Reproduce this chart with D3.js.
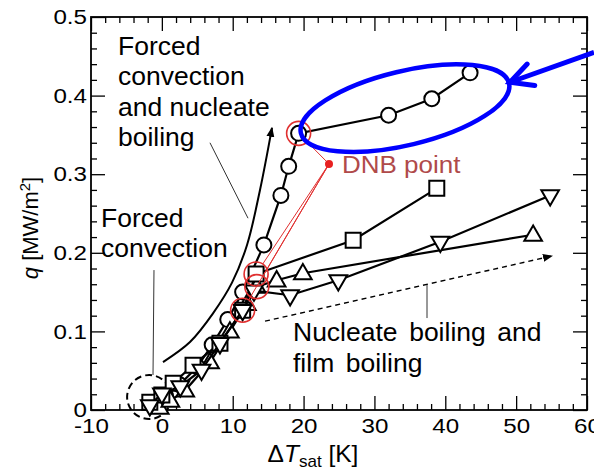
<!DOCTYPE html>
<html><head><meta charset="utf-8">
<script src="https://cdn.jsdelivr.net/npm/d3@7"></script>
<style>
body{margin:0;background:#fff}
text{font-family:"Liberation Sans",Arial,sans-serif}
</style>
</head><body><div id="chart"></div>
<script>
// set the dimensions and margins of the graph
const margin = {top: 17, right: 7, bottom: 64, left: 91},
    width = 594 - margin.left - margin.right,
    height = 474 - margin.top - margin.bottom;

// tick labels
const xTicks = [-10, 0, 10, 20, 30, 40, 50, 60];
const yTicks = [0, 0.1, 0.2, 0.3, 0.4, 0.5];

// series: dT_sat [K] and q [MW/m2]
const dT_circle = [-1.0, 0.5, 2.5, 5.0, 7.1, 9.3, 11.4, 14.4, 16.8, 17.9, 19.3, 32.0, 38.1, 43.5];
const q_circle  = [0.008, 0.018, 0.032, 0.055, 0.083, 0.115, 0.150, 0.210, 0.273, 0.310, 0.352, 0.375, 0.396, 0.429];
const dT_up = [-0.3, 1.2, 3.3, 6.8, 9.6, 12.0, 13.4, 16.2, 19.9, 52.4];
const q_up  = [0.003, 0.012, 0.025, 0.061, 0.100, 0.135, 0.157, 0.165, 0.174, 0.223];
const dT_square = [-1.7, 0.0, 1.6, 4.4, 8.2, 11.4, 13.3, 27.0, 38.8];
const q_square  = [0.010, 0.019, 0.034, 0.057, 0.085, 0.127, 0.173, 0.216, 0.282];
const dT_down = [-1.7, 0.0, 2.6, 5.6, 8.2, 11.4, 13.0, 18.1, 24.9, 39.3, 54.8];
const q_down  = [0.006, 0.021, 0.030, 0.051, 0.085, 0.127, 0.152, 0.146, 0.165, 0.214, 0.273];
// index of the DNB point in each series
const dnbIndex = {circle: 10, up: 6, square: 6, down: 5};

const series = [
  {key: "circle", x: dT_circle, q: q_circle},
  {key: "up", x: dT_up, q: q_up},
  {key: "square", x: dT_square, q: q_square},
  {key: "down", x: dT_down, q: q_down}
];

const svg = d3.select("#chart")
  .append("svg")
    .attr("width", width + margin.left + margin.right)
    .attr("height", height + margin.top + margin.bottom)
  .append("g")
    .attr("transform", `translate(${margin.left},${margin.top})`);

const x = d3.scaleLinear().domain([-10, 60]).range([0, width]);
const y = d3.scaleLinear().domain([0, 0.5]).range([height, 0]);

const xMinor = d3.range(-10, 61, 2).filter(v => v % 10 !== 0);
const yMinor = d3.range(0, 0.501, 0.02).filter((v, i) => i % 5 !== 0);

// axes, ticks pointing inward on all four sides
function styleAxis(g) {
  g.select(".domain").remove();
  g.selectAll("line").attr("stroke", "#000").attr("stroke-width", 1.3);
}
svg.append("g").attr("transform", `translate(0,${height})`)
  .call(d3.axisBottom(x).tickValues(xTicks).tickSize(-14).tickPadding(8).tickFormat(d => String(d)))
  .call(styleAxis)
  .call(g => g.selectAll("text").attr("font-size", 21).attr("fill", "#000").attr("transform", "scale(1.15,1)"));
svg.append("g").attr("transform", `translate(0,${height})`)
  .call(d3.axisBottom(x).tickValues(xMinor).tickSize(-6).tickFormat(""))
  .call(styleAxis);
svg.append("g")
  .call(d3.axisLeft(y).tickValues(yTicks).tickSize(-14).tickPadding(3.5).tickFormat(d => String(d)))
  .call(styleAxis)
  .call(g => g.selectAll("text").attr("font-size", 21).attr("fill", "#000").attr("transform", "scale(1.15,1)"));
svg.append("g")
  .call(d3.axisLeft(y).tickValues(yMinor).tickSize(-6).tickFormat(""))
  .call(styleAxis);
svg.append("g")
  .call(d3.axisTop(x).tickValues(xTicks).tickSize(-14).tickFormat(""))
  .call(styleAxis);
svg.append("g")
  .call(d3.axisTop(x).tickValues(xMinor).tickSize(-6).tickFormat(""))
  .call(styleAxis);
svg.append("g").attr("transform", `translate(${width},0)`)
  .call(d3.axisRight(y).tickValues(yTicks).tickSize(-14).tickFormat(""))
  .call(styleAxis);
svg.append("g").attr("transform", `translate(${width},0)`)
  .call(d3.axisRight(y).tickValues(yMinor).tickSize(-6).tickFormat(""))
  .call(styleAxis);

svg.append("rect")
  .attr("width", width).attr("height", height)
  .attr("fill", "none").attr("stroke", "#000").attr("stroke-width", 1.8);

// axis titles
const xt = svg.append("text")
  .attr("x", 313 - margin.left).attr("y", height + 52)
  .attr("text-anchor", "middle").attr("font-size", 24.5).attr("fill", "#000");
xt.append("tspan").text("Δ");
xt.append("tspan").attr("font-style", "italic").text("T");
xt.append("tspan").attr("font-size", 17).attr("dy", 5).text("sat");
xt.append("tspan").attr("dy", -5).text(" [K]");

const yt = svg.append("text")
  .attr("transform", `translate(${38 - margin.left},${228 - margin.top}) rotate(-90)`)
  .attr("text-anchor", "middle").attr("font-size", 22).attr("fill", "#000");
yt.append("tspan").attr("font-style", "italic").text("q");
yt.append("tspan").text(" [MW/m");
yt.append("tspan").attr("font-size", 15).attr("dy", -8).text("2");
yt.append("tspan").attr("dy", 8).text("]");

// defs for arrowheads
const defs = svg.append("defs");
defs.append("marker").attr("id", "blackhead")
  .attr("viewBox", "0 0 10 10").attr("refX", 9).attr("refY", 5)
  .attr("markerWidth", 10).attr("markerHeight", 10).attr("markerUnits", "userSpaceOnUse")
  .attr("orient", "auto")
  .append("path").attr("d", "M0,1 L10,5 L0,9 Z").attr("fill", "#000");

// annotation: curved arrow
const curvePts = [[0.16, 0.061], [3.97, 0.0865], [7.22, 0.123], [9.90, 0.162], [12.02, 0.210], [13.85, 0.280], [15.54, 0.359]];
svg.append("path")
  .attr("d", d3.line().x(d => x(d[0])).y(d => y(d[1])).curve(d3.curveCatmullRom)(curvePts))
  .attr("fill", "none").attr("stroke", "#000").attr("stroke-width", 2)
  .attr("marker-end", "url(#blackhead)");

// dashed arrow
svg.append("line")
  .attr("x1", x(14.56)).attr("y1", y(0.113)).attr("x2", x(55.06)).attr("y2", y(0.196))
  .attr("stroke", "#000").attr("stroke-width", 1.4).attr("stroke-dasharray", "5,4")
  .attr("marker-end", "url(#blackhead)");

// dashed circle at origin
svg.append("circle")
  .attr("cx", x(-1.8)).attr("cy", y(0.0165)).attr("r", 22)
  .attr("fill", "none").attr("stroke", "#000").attr("stroke-width", 2).attr("stroke-dasharray", "7,4");

// leader lines
const leaders = [
  [[6.79, 0.340], [12.16, 0.244]],
  [[-1.11, 0.178], [-1.25, 0.0445]],
  [[37.42, 0.159], [37.42, 0.117]]
];
svg.selectAll(".leader").data(leaders).join("line")
  .attr("x1", d => x(d[0][0])).attr("y1", d => y(d[0][1]))
  .attr("x2", d => x(d[1][0])).attr("y2", d => y(d[1][1]))
  .attr("stroke", "#333").attr("stroke-width", 1);

// series lines and markers
const line = d3.line().x(d => x(d[0])).y(d => y(d[1]));
const symbols = {
  circle: d3.symbol().type(d3.symbolCircle).size(177),
  up: d3.symbol().type(d3.symbolTriangle).size(135),
  square: d3.symbol().type(d3.symbolSquare).size(225),
  down: d3.symbol().type(d3.symbolTriangle).size(135)
};
series.forEach(s => {
  const pts = s.x.map((v, i) => [v, s.q[i]]);
  svg.append("path").attr("d", line(pts))
    .attr("fill", "none").attr("stroke", "#000").attr("stroke-width", 2.2);
  svg.append("g").selectAll("path").data(pts).join("path")
    .attr("d", symbols[s.key]())
    .attr("transform", d => `translate(${x(d[0])},${y(d[1])})` + (s.key === "down" ? " rotate(180)" : "") + (s.key === "up" ? " translate(0,1)" : ""))
    .attr("fill", "#fff").attr("stroke", "#000").attr("stroke-width", 2);
});

// DNB markers and lines to the label dot
const dot = [23.59, 0.313];
const dnbPts = series.map(s => [s.x[dnbIndex[s.key]], s.q[dnbIndex[s.key]]]);
const rDnb = 12;
svg.selectAll(".dnbline").data(dnbPts).join("line")
  .each(function(d) {
    const x0 = x(dot[0]), y0 = y(dot[1]), x1 = x(d[0]), y1 = y(d[1]);
    const len = Math.hypot(x1 - x0, y1 - y0);
    d3.select(this)
      .attr("x1", x0).attr("y1", y0)
      .attr("x2", x1 - (x1 - x0) / len * rDnb).attr("y2", y1 - (y1 - y0) / len * rDnb);
  })
  .attr("stroke", "#e03030").attr("stroke-width", 1);
svg.selectAll(".dnb").data(dnbPts).join("circle")
  .attr("cx", d => x(d[0])).attr("cy", d => y(d[1])).attr("r", rDnb)
  .attr("fill", "none").attr("stroke", "#e03030").attr("stroke-width", 1.6);
svg.append("circle").attr("cx", x(dot[0])).attr("cy", y(dot[1])).attr("r", 4).attr("fill", "#e82020");
svg.append("g").attr("transform", `translate(${x(dot[0]) + 13},${y(dot[1]) + 9}) scale(1.13,1)`)
  .append("text").attr("font-size", 23).attr("fill", "#b04a4a").text("DNB point");

// blue ellipse and arrow
svg.append("ellipse")
  .attr("transform", `translate(${x(34.31)},${y(0.384)}) rotate(-13.5)`)
  .attr("rx", 107).attr("ry", 37)
  .attr("fill", "none").attr("stroke", "#0000ff").attr("stroke-width", 4.5);
const bx0 = x(60.99), by0 = y(0.455), bx1 = x(49.13), by1 = y(0.417);
const ang = Math.atan2(by0 - by1, bx0 - bx1);
const wing = 25, spread = 27 * Math.PI / 180;
svg.append("line").attr("x1", bx0).attr("y1", by0).attr("x2", bx1).attr("y2", by1)
  .attr("stroke", "#0000ff").attr("stroke-width", 5);
svg.append("path")
  .attr("d", `M${bx1 + wing * Math.cos(ang - spread)},${by1 + wing * Math.sin(ang - spread)} L${bx1},${by1} L${bx1 + wing * Math.cos(ang + spread)},${by1 + wing * Math.sin(ang + spread)}`)
  .attr("fill", "none").attr("stroke", "#0000ff").attr("stroke-width", 5).attr("stroke-linecap", "round");

// text annotations
function block(lines, x0, y0, dy, ws) {
  const t = svg.append("g")
    .attr("transform", `translate(${x0 - margin.left},${y0 - margin.top}) scale(1.06,1)`)
    .append("text").attr("font-size", 25).attr("fill", "#000");
  lines.forEach((l, i) => t.append("tspan").attr("x", 0).attr("y", i * dy).attr("word-spacing", ws || 0).text(l));
}
block(["Forced", "convection", "and nucleate", "boiling"], 118, 55, 30.5);
block(["Forced", "convection"], 101, 227, 30);
block(["Nucleate boiling and", "film boiling"], 293, 341, 31, 4);
</script>
</body></html>
